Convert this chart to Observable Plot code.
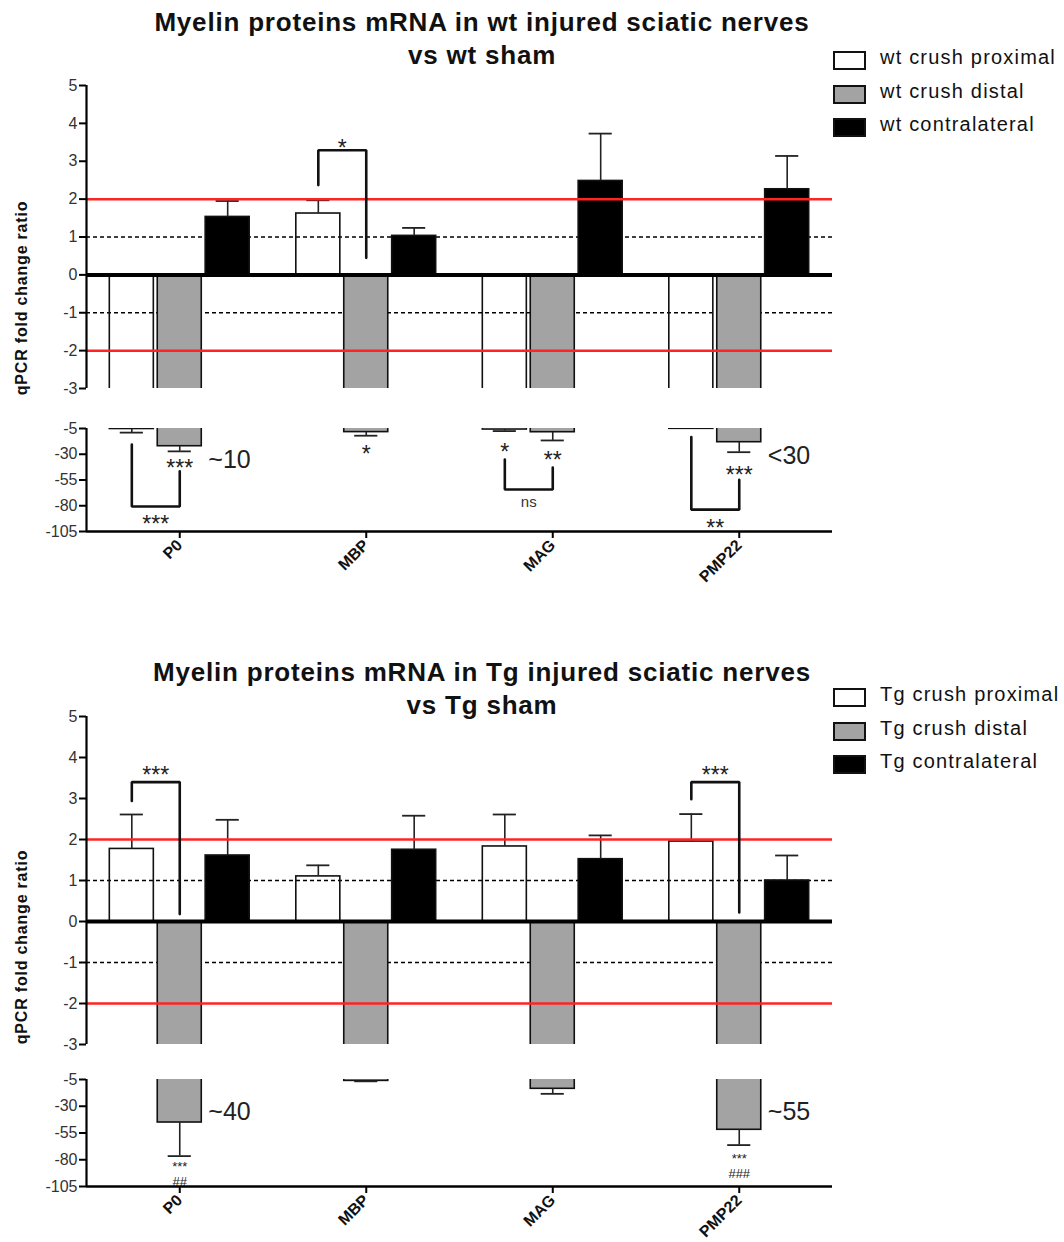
<!DOCTYPE html>
<html>
<head>
<meta charset="utf-8">
<script src="https://cdn.jsdelivr.net/npm/d3@7"></script>
<script src="https://cdn.jsdelivr.net/npm/@observablehq/plot@0.6"></script>
<style>
  body { margin: 0; background: #fff; font-family: "Liberation Sans", Arial, sans-serif; }
  #root { position: relative; width: 1064px; height: 1242px; overflow: hidden; background: #fff; }
  .title { position: absolute; left: 82px; width: 800px; text-align: center; font-weight: bold; font-size: 26px; letter-spacing: 0.8px; line-height: 33px; color: #111; white-space: nowrap; }
  .ylab { position: absolute; width: 260px; text-align: center; font-weight: bold; font-size: 16px; letter-spacing: 0.8px; color: #111; transform: rotate(-90deg); transform-origin: center center; white-space: nowrap; }
  .leg { position: absolute; left: 833px; font-size: 20px; color: #111; }
  .legrow { position: relative; height: 33.5px; }
  .legbox { position: absolute; left: 0; top: 7px; width: 29px; height: 15px; border: 2px solid #111; }
  .legtxt { position: absolute; left: 47px; top: 2px; white-space: nowrap; letter-spacing: 1.2px; }
</style>
</head>
<body>
<div id="root"></div>
<script>
// ---------------- data ----------------
const genes = ["P0", "MBP", "MAG", "PMP22"];
const seriesKeys = ["proximal", "distal", "contralateral"];

// wt panel (mean fold change, SEM)
const wtLegend = ["wt crush proximal", "wt crush distal", "wt contralateral"];
const wtProximal      = [-5.5, 1.62, -6.0, -5.3];
const wtProximalSem   = [3.5, 0.35, 1.5, 0];
const wtDistal        = [-22.2, -8.5, -8.6, -18.3];
const wtDistalSem     = [5.0, 3.5, 8.0, 9.7];
const wtContra        = [1.53, 1.03, 2.48, 2.26];
const wtContraSem     = [0.42, 0.21, 1.25, 0.88];

// Tg panel
const tgLegend = ["Tg crush proximal", "Tg crush distal", "Tg contralateral"];
const tgProximal      = [1.77, 1.10, 1.83, 1.95];
const tgProximalSem   = [0.84, 0.27, 0.78, 0.67];
const tgDistal        = [-45.2, -6.3, -13.7, -52.0];
const tgDistalSem     = [31.4, 0.4, 4.7, 14.3];
const tgContra        = [1.61, 1.75, 1.52, 1.00];
const tgContraSem     = [0.87, 0.83, 0.58, 0.61];

// axis ticks
const upperTicks = [5, 4, 3, 2, 1, 0, -1, -2, -3];
const lowerTicks = [-5, -30, -55, -80, -105];
const dashedLevels = [1, -1];
const redLevels = [2, -2];

// significance brackets: from proximal bar (0) to distal bar (1)
const wtBrackets = [
  {seg: "upper", gene: "MBP",   y1: 2.37,  y2: 3.29,  y3: 0.45,  label: "*",   labelY: 3.5},
  {seg: "lower", gene: "P0",    y1: -20.5, y2: -80.7, y3: -46.5, label: "***", labelY: -92.4},
  {seg: "lower", gene: "MAG",   y1: -35.1, y2: -64.2, y3: -42.9, label: "ns",  labelY: -76.6},
  {seg: "lower", gene: "PMP22", y1: -13.3, y2: -83.8, y3: -54.9, label: "**",  labelY: -96.0}
];
const tgBrackets = [
  {seg: "upper", gene: "P0",    y1: 2.94, y2: 3.40, y3: 0.18, label: "***", labelY: 3.71},
  {seg: "upper", gene: "PMP22", y1: 2.98, y2: 3.40, y3: 0.22, label: "***", labelY: 3.71}
];
// text notes next to bars (si = bar index); stack = two-line note below a bar
const wtNotes = [
  {seg: "lower", gene: "P0",    si: 1, y: -38.0, text: "***"},
  {seg: "lower", gene: "P0",    si: 1, y: -36.0, text: "~10", side: true},
  {seg: "lower", gene: "MBP",   si: 1, y: -24.5, text: "*"},
  {seg: "lower", gene: "MAG",   si: 0, y: -22.2, text: "*"},
  {seg: "lower", gene: "MAG",   si: 1, y: -30.2, text: "**"},
  {seg: "lower", gene: "PMP22", si: 1, y: -44.8, text: "***"},
  {seg: "lower", gene: "PMP22", si: 1, y: -32.0, text: "<30", side: true}
];
const tgNotes = [
  {seg: "lower", gene: "P0",    si: 1, y: -35.6, text: "~40", side: true},
  {seg: "lower", gene: "P0",    si: 1, y: -80.9, text: "***\n##", stack: true},
  {seg: "lower", gene: "PMP22", si: 1, y: -73.4, text: "***\n###", stack: true},
  {seg: "lower", gene: "PMP22", si: 1, y: -35.8, text: "~55", side: true}
];

// ---------------- helpers ----------------
const OFF = 0.257, HW = 0.118, CAP = 0.062, GAP = 0.035;
const fills = ["none", "#a3a3a3", "#000"];
const legendFills = ["#fff", "#a3a3a3", "#000"];
const FONT = "Liberation Sans, Arial, sans-serif";
const STAR = 23;

function table(vals, sems) {
  const out = [];
  seriesKeys.forEach((s, si) => genes.forEach((g, gi) =>
    out.push({gene: g, gi, series: s, si, value: vals[si][gi], sem: sems[si][gi]})));
  return out;
}
const cx = (gi, si) => gi + (si - 1) * OFF;
const endOf = d => d.value + Math.sign(d.value) * d.sem;
const isStar = t => /^\*+$/.test(t);

function segmentMarks(data, seg, brackets, notes, yDomain) {
  const marks = [];
  if (seg === "upper") marks.push(Plot.ruleY(dashedLevels, {stroke: "#000", strokeWidth: 1.5, strokeDasharray: "4,3"}));
  seriesKeys.forEach((s, si) => {
    marks.push(Plot.rectY(data.filter(d => d.si === si), {
      x1: d => cx(d.gi, d.si) - HW, x2: d => cx(d.gi, d.si) + HW,
      y1: 0, y2: "value", fill: fills[si], stroke: "#111", strokeWidth: 1.6, clip: true
    }));
  });
  const errs = data.filter(d => d.sem > 0);
  marks.push(Plot.ruleX(errs, {x: d => cx(d.gi, d.si), y1: "value", y2: endOf, stroke: "#222", strokeWidth: 1.6, clip: true}));
  marks.push(Plot.ruleY(errs, {y: endOf, x1: d => cx(d.gi, d.si) - CAP, x2: d => cx(d.gi, d.si) + CAP, stroke: "#222", strokeWidth: 1.8, clip: true}));
  if (seg === "upper") {
    marks.push(Plot.ruleY(redLevels, {stroke: "#ff2424", strokeWidth: 2.5}));
    marks.push(Plot.ruleY([0], {stroke: "#000", strokeWidth: 4}));
  }
  // brackets
  const bs = brackets.filter(b => b.seg === seg);
  const bpts = [];
  bs.forEach((b, k) => {
    const gi = genes.indexOf(b.gene);
    bpts.push({k, x: cx(gi, 0), y: b.y1}, {k, x: cx(gi, 0), y: b.y2}, {k, x: cx(gi, 1), y: b.y2}, {k, x: cx(gi, 1), y: b.y3});
  });
  marks.push(Plot.line(bpts, {x: "x", y: "y", z: "k", stroke: "#111", strokeWidth: 2.6, strokeLinejoin: "miter"}));
  const blabels = bs.map(b => {
    const gi = genes.indexOf(b.gene);
    return {x: (cx(gi, 0) + cx(gi, 1)) / 2, y: b.labelY, text: b.label};
  });
  marks.push(Plot.text(blabels.filter(d => isStar(d.text)), {x: "x", y: "y", text: "text", fontSize: STAR, fill: "#222", dy: STAR * 0.26}));
  marks.push(Plot.text(blabels.filter(d => !isStar(d.text)), {x: "x", y: "y", text: "text", fontSize: 15, fill: "#333"}));
  // notes
  const ns = notes.filter(n => n.seg === seg).map(n => {
    const gi = genes.indexOf(n.gene);
    return {x: n.side ? cx(gi, n.si) + HW + GAP : cx(gi, n.si), y: n.y, text: n.text, side: !!n.side, stack: !!n.stack};
  });
  marks.push(Plot.text(ns.filter(d => d.side), {x: "x", y: "y", text: "text", fontSize: 25, fill: "#222", textAnchor: "start"}));
  marks.push(Plot.text(ns.filter(d => !d.side && !d.stack && isStar(d.text)), {x: "x", y: "y", text: "text", fontSize: STAR, fill: "#222", dy: STAR * 0.26}));
  marks.push(Plot.text(ns.filter(d => d.stack), {x: "x", y: "y", text: "text", fontSize: 13, lineHeight: 1.13, lineAnchor: "top", fill: "#222"}));
  // axes
  marks.push(Plot.ruleX([-0.5], {y1: yDomain[0], y2: yDomain[1], stroke: "#000", strokeWidth: 2.2}));
  marks.push(Plot.axisY({ticks: seg === "upper" ? upperTicks : lowerTicks, tickFormat: d => String(d), tickSize: 7, tickPadding: 2, stroke: "#000", strokeWidth: 2, fill: "#333", fontSize: 16, label: null}));
  if (seg === "lower") {
    marks.push(Plot.ruleY([yDomain[0]], {stroke: "#000", strokeWidth: 2.5}));
    marks.push(Plot.axisX({ticks: [0, 1, 2, 3], tickFormat: i => genes[i], tickRotate: -45, tickSize: 7, tickPadding: 4, stroke: "#000", strokeWidth: 2, fill: "#111", fontSize: 16, fontWeight: "bold", label: null}));
  }
  return marks;
}

function makePlot(data, seg, brackets, notes, frameTop, frameBottom, svgTop, mt, mb) {
  const yDomain = seg === "upper" ? [-3, 5] : [-105, -5];
  const p = Plot.plot({
    width: 1064,
    height: frameBottom + mb - svgTop,
    marginLeft: 86, marginRight: 232, marginTop: mt, marginBottom: mb,
    x: {domain: [-0.5, 3.5], axis: null},
    y: {domain: yDomain, axis: null},
    style: {background: "transparent", fontFamily: FONT, fontSize: "15px", overflow: "visible"},
    marks: segmentMarks(data, seg, brackets, notes, yDomain)
  });
  p.style.position = "absolute";
  p.style.left = "0px";
  p.style.top = svgTop + "px";
  return p;
}

const root = document.getElementById("root");

function panel(cfg) {
  const data = table(cfg.vals, cfg.sems);
  const t = document.createElement("div");
  t.className = "title";
  t.style.top = cfg.titleTop + "px";
  t.innerHTML = cfg.title.join("<br>");
  root.appendChild(t);
  const lg = document.createElement("div");
  lg.className = "leg";
  lg.style.top = cfg.legendTop + "px";
  cfg.legend.forEach((name, i) => {
    const r = document.createElement("div");
    r.className = "legrow";
    r.innerHTML = `<div class="legbox" style="background:${legendFills[i]}"></div><div class="legtxt">${name}</div>`;
    lg.appendChild(r);
  });
  root.appendChild(lg);
  const yl = document.createElement("div");
  yl.className = "ylab";
  yl.textContent = "qPCR fold change ratio";
  yl.style.left = (22 - 130) + "px";
  yl.style.top = (cfg.ylabCenter - 9) + "px";
  root.appendChild(yl);
  const u = cfg.upper, l = cfg.lower;
  root.appendChild(makePlot(data, "upper", cfg.brackets, cfg.notes, u[0], u[1], u[0] - 15, 15, 6));
  root.appendChild(makePlot(data, "lower", cfg.brackets, cfg.notes, l[0], l[1], l[0] - 18, 18, l[2]));
}

panel({
  title: ["Myelin proteins mRNA in wt injured sciatic nerves", "vs wt sham"],
  titleTop: 6, legendTop: 44, ylabCenter: 298,
  legend: wtLegend,
  vals: [wtProximal, wtDistal, wtContra], sems: [wtProximalSem, wtDistalSem, wtContraSem],
  brackets: wtBrackets, notes: wtNotes,
  upper: [85, 388], lower: [428, 531, 75]
});
panel({
  title: ["Myelin proteins mRNA in Tg injured sciatic nerves", "vs Tg sham"],
  titleTop: 656, legendTop: 681, ylabCenter: 947,
  legend: tgLegend,
  vals: [tgProximal, tgDistal, tgContra], sems: [tgProximalSem, tgDistalSem, tgContraSem],
  brackets: tgBrackets, notes: tgNotes,
  upper: [716, 1044], lower: [1079, 1186, 54]
});
</script>
</body>
</html>
